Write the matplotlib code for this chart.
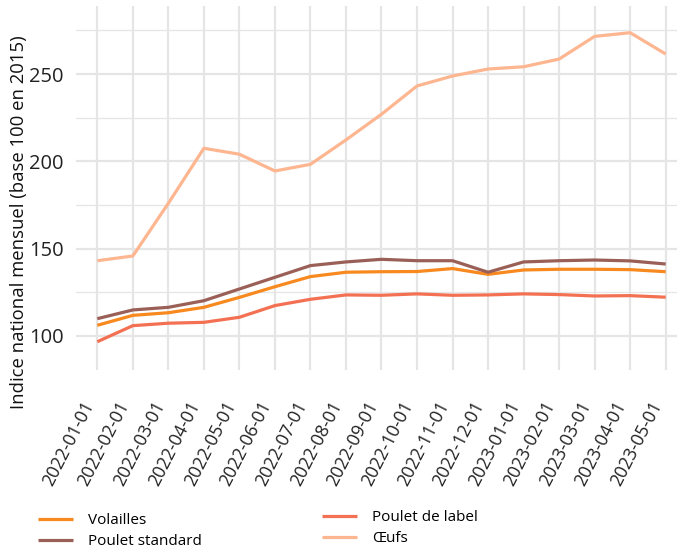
import matplotlib
matplotlib.use("Agg")
import matplotlib.pyplot as plt
import numpy as np

plt.rcParams['font.family'] = ['Open Sans', 'DejaVu Sans']

dates = ["2022-01-01", "2022-02-01", "2022-03-01", "2022-04-01", "2022-05-01",
         "2022-06-01", "2022-07-01", "2022-08-01", "2022-09-01", "2022-10-01",
         "2022-11-01", "2022-12-01", "2023-01-01", "2023-02-01", "2023-03-01",
         "2023-04-01", "2023-05-01"]

volailles = [106.1, 111.8, 113.3, 116.4, 122.1, 128.2, 134.0, 136.5, 136.8,
             136.9, 138.6, 135.3, 137.8, 138.2, 138.2, 138.0, 136.8]
poulet_standard = [109.9, 114.9, 116.4, 120.2, 126.9, 133.6, 140.3, 142.4, 143.9,
                   143.1, 143.1, 136.5, 142.4, 143.1, 143.5, 143.0, 141.2]
poulet_label = [96.7, 105.9, 107.3, 107.8, 110.7, 117.4, 121.0, 123.5, 123.3,
                124.1, 123.3, 123.5, 124.1, 123.7, 122.9, 123.1, 122.2]
oeufs = [143.1, 145.8, 176.0, 207.5, 204.1, 194.5, 198.3, 212.3, 227.0,
         243.2, 248.9, 252.9, 254.2, 258.6, 271.6, 273.7, 261.5]

series = [("Volailles", volailles, "#F7891F"),
          ("Poulet standard", poulet_standard, "#9A5F56"),
          ("Poulet de label", poulet_label, "#F37053"),
          ("Œufs", oeufs, "#FDB690")]

W, H = 677, 548
fig = plt.figure(figsize=(W / 100, H / 100), dpi=100)
left, right, top, bottom = 76, 687, 6, 370
ax = fig.add_axes([left / W, 1 - bottom / H, (right - left) / W, (bottom - top) / H])

x = np.arange(len(dates))
handles = {}
for name, vals, col in series:
    h, = ax.plot(x, vals, color=col, lw=2.3, solid_capstyle='butt', zorder=3)
    handles[name] = h

ax.set_xlim(-0.6, len(dates) - 1 + 0.6)
ax.set_ylim(80.5, 289)
ax.set_xticks(x)
ax.set_xticklabels(dates, rotation=63, ha='right', va='top', rotation_mode='default',
                   fontsize=12.8)
ax.set_yticks([100, 150, 200, 250])
ax.set_yticks([125, 175, 225, 275], minor=True)
ax.grid(True, which='major', color='#E5E5E5', lw=1.6, zorder=0)
ax.grid(True, which='minor', axis='y', color='#E5E5E5', lw=0.9, zorder=0)
ax.tick_params(axis='both', which='both', length=0, labelcolor='#222222')
ax.tick_params(axis='y', pad=9, labelsize=14.5)
ax.tick_params(axis='x', pad=20)
for s in ax.spines.values():
    s.set_visible(False)
ax.set_axisbelow(True)

fig.text(19 / W, 1 - 222 / H, "Indice national mensuel (base 100 en 2015)",
         rotation=90, ha='center', va='center', fontsize=13.3, color='#111111')

leg1 = fig.legend([handles["Volailles"], handles["Poulet standard"]],
                  ["Volailles", "Poulet standard"],
                  loc='upper left', bbox_to_anchor=(38 / W, 1 - 513 / H),
                  frameon=False, fontsize=11, handlelength=2.3, handletextpad=0.95,
                  labelspacing=0.4, borderpad=0, borderaxespad=0)
leg2 = fig.legend([handles["Poulet de label"], handles["Œufs"]],
                  ["Poulet de label", "Œufs"],
                  loc='upper left', bbox_to_anchor=(322 / W, 1 - 510 / H),
                  frameon=False, fontsize=11, handlelength=2.3, handletextpad=0.95,
                  labelspacing=0.4, borderpad=0, borderaxespad=0)

fig.savefig("out.png", dpi=100)
